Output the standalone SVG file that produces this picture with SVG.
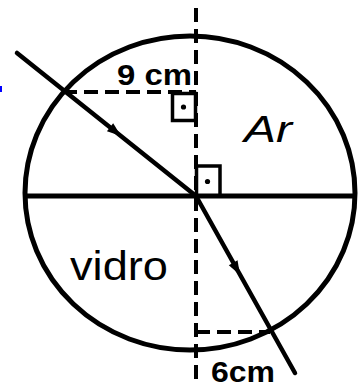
<svg xmlns="http://www.w3.org/2000/svg" width="360" height="387" viewBox="0 0 360 387">
  <style>
    .solid { stroke: #000; stroke-width: 5; fill: none; }
    .ray { stroke: #000; stroke-width: 4.5; fill: none; stroke-linecap: round; }
    .dash { stroke: #000; stroke-width: 4; fill: none; stroke-dasharray: 14 7; }
    .box { stroke: #000; stroke-width: 3.5; fill: none; }
    .lbl { font-family: "Liberation Sans", Arial, sans-serif; font-weight: bold; font-size: 29px; fill: #000; }
    .med { font-family: "Liberation Sans", Arial, sans-serif; fill: #000; }
  </style>
  <defs>
    <path id="arr" d="M0,0 L-14,-5 L-14,5 Z" fill="#000"/>
  </defs>
  <rect x="0" y="86" width="2" height="6" fill="#0000ff"/>
  <g id="circle">
    <ellipse class="solid" cx="190" cy="193" rx="165" ry="157"/>
    <line class="solid" x1="25" y1="196" x2="355" y2="196"/>
  </g>
  <g id="normal">
    <line class="dash" x1="196" y1="8" x2="196" y2="386"/>
  </g>
  <g id="connectors">
    <line class="ray" x1="17" y1="53" x2="196" y2="196"/>
    <line class="ray" x1="196" y1="196" x2="295" y2="373"/>
    <use href="#arr" transform="translate(121,136) rotate(38.6)"/>
    <use href="#arr" transform="translate(240,275) rotate(60.8)"/>
    <line class="dash" x1="63" y1="92" x2="196" y2="92"/>
    <line class="dash" x1="196" y1="332" x2="270" y2="332"/>
  </g>
  <g id="angle-top">
    <rect class="box" x="172.5" y="93.5" width="23" height="27"/>
    <circle cx="183.5" cy="107" r="2.6" fill="#000"/>
  </g>
  <g id="angle-center">
    <rect class="box" x="196.5" y="166" width="23.5" height="30"/>
    <circle cx="207.5" cy="181.5" r="2.6" fill="#000"/>
  </g>
  <g id="label-9cm">
    <text class="lbl" x="117" y="85" textLength="75" lengthAdjust="spacingAndGlyphs">9 cm</text>
  </g>
  <g id="label-6cm">
    <text class="lbl" x="211" y="382" textLength="64" lengthAdjust="spacingAndGlyphs">6cm</text>
  </g>
  <g id="label-ar">
    <text class="med" x="244" y="142" font-size="37" font-style="italic" textLength="48" lengthAdjust="spacingAndGlyphs">Ar</text>
  </g>
  <g id="label-vidro">
    <text class="med" x="70" y="280" font-size="40" textLength="98" lengthAdjust="spacingAndGlyphs">vidro</text>
  </g>
</svg>
